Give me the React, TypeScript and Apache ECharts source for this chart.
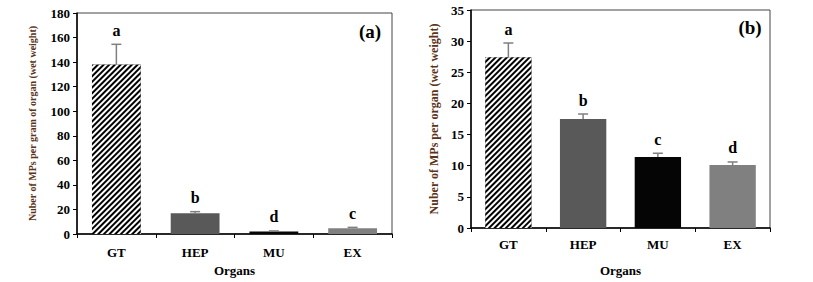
import React, { useEffect, useRef } from "react";
import * as echarts from "echarts";

const categories = ["GT", "HEP", "MU", "EX"];

const valuesA = [138, 16.8, 2.1, 4.7];
const errorTopA = [154.5, 18.2, 2.5, 5.4];
const lettersA = ["a", "b", "d", "c"];

const valuesB = [27.4, 17.5, 11.4, 10.1];
const errorTopB = [29.7, 18.3, 12.0, 10.6];
const lettersB = ["a", "b", "c", "d"];

const barColors = ["#000000", "#595959", "#050505", "#808080"];

const SERIF = '"Liberation Serif", "Times New Roman", serif';

function makeBarData(values: number[]) {
  return values.map((v, i) => {
    const item: any = { value: v, itemStyle: { color: barColors[i] } };
    if (i === 0) {
      item.itemStyle.decal = {
        symbol: "rect",
        symbolSize: 1,
        dashArrayX: [1, 0],
        dashArrayY: [2, 2],
        rotation: -Math.PI / 4,
        color: "#ffffff",
      };
    }
    return item;
  });
}

function makeErrSeries(gridIdx: number, values: number[], tops: number[], letters: string[]) {
  return {
    type: "custom",
    xAxisIndex: gridIdx,
    yAxisIndex: gridIdx,
    z: 5,
    data: values.map((v, i) => [i, v, tops[i]]),
    renderItem: (params: any, api: any) => {
      const idx = params.dataIndex;
      const x = api.value(0);
      const lo = api.value(1);
      const hi = api.value(2);
      const p0 = api.coord([x, lo]);
      const p1 = api.coord([x, hi]);
      const st = { stroke: "#7f7f7f", lineWidth: 1.5 };
      return {
        type: "group",
        children: [
          { type: "line", shape: { x1: p0[0], y1: p0[1], x2: p1[0], y2: p1[1] }, style: st },
          { type: "line", shape: { x1: p1[0] - 5, y1: p1[1], x2: p1[0] + 5, y2: p1[1] }, style: st },
          {
            type: "text",
            x: p1[0],
            y: p1[1] - 6,
            style: {
              text: letters[idx],
              textAlign: "center",
              textVerticalAlign: "bottom",
              font: "bold 16px " + SERIF,
              fill: "#000",
            },
          },
        ],
      };
    },
  };
}

function yAxis(gridIndex: number, max: number, interval: number, name: string, nameSize: number, nameGap: number) {
  return {
    type: "value",
    gridIndex,
    min: 0,
    max,
    interval,
    name,
    nameLocation: "middle",
    nameGap,
    nameTextStyle: { color: "#5c3317", fontFamily: SERIF, fontWeight: "bold", fontSize: nameSize },
    axisLine: { show: true, lineStyle: { color: "#000", width: 1.5 } },
    axisTick: { show: true, inside: false, length: 4, lineStyle: { color: "#000", width: 1 } },
    axisLabel: { color: "#000", fontFamily: SERIF, fontWeight: "bold", fontSize: 13, margin: 7 },
    splitLine: { show: false },
  };
}

function xAxis(gridIndex: number, nameGap: number, labelMargin: number) {
  return {
    type: "category",
    gridIndex,
    data: categories,
    name: "Organs",
    nameLocation: "middle",
    nameGap,
    nameTextStyle: { color: "#000", fontFamily: SERIF, fontWeight: "bold", fontSize: 13 },
    axisLine: { show: true, lineStyle: { color: "#000", width: 1.5 } },
    axisTick: { show: true, inside: false, length: 4, lineStyle: { color: "#000", width: 1 } },
    axisLabel: { color: "#000", fontFamily: SERIF, fontWeight: "bold", fontSize: 13, margin: labelMargin },
    splitLine: { show: false },
  };
}

export default function App() {
  const ref = useRef<HTMLDivElement>(null);
  useEffect(() => {
    if (!ref.current) return;
    const chart = echarts.init(ref.current, null, { renderer: "svg" });
    chart.setOption({
      animation: false,
      backgroundColor: "#fff",
      grid: [
        { left: 77, top: 13, width: 315, height: 224, show: true, borderColor: "#444", borderWidth: 1 },
        { left: 471, top: 10, width: 299, height: 224, show: true, borderColor: "#444", borderWidth: 1 },
      ],
      xAxis: [xAxis(0, 30, 12), xAxis(1, 36, 10)],
      yAxis: [
        yAxis(0, 180, 20, "Nuber of MPs per gram of organ (wet weight)", 10, 40),
        yAxis(1, 35, 5, "Nuber of MPs per organ (wet weight)", 12, 31),
      ],
      series: [
        {
          type: "bar",
          xAxisIndex: 0,
          yAxisIndex: 0,
          barCategoryGap: "38%",
          data: makeBarData(valuesA),
        },
        {
          type: "bar",
          xAxisIndex: 1,
          yAxisIndex: 1,
          barCategoryGap: "38%",
          data: makeBarData(valuesB),
        },
        makeErrSeries(0, valuesA, errorTopA, lettersA),
        makeErrSeries(1, valuesB, errorTopB, lettersB),
      ],
      graphic: [
        {
          type: "text",
          x: 370,
          y: 31,
          style: { text: "(a)", textAlign: "center", textVerticalAlign: "middle", font: "bold 19px " + SERIF, fill: "#000" },
        },
        {
          type: "text",
          x: 750,
          y: 27,
          style: { text: "(b)", textAlign: "center", textVerticalAlign: "middle", font: "bold 19px " + SERIF, fill: "#000" },
        },
      ],
    });
    return () => chart.dispose();
  }, []);
  return (
    <div
      ref={ref}
      style={{ position: "fixed", left: 0, top: 0, width: 813, height: 282, background: "#fff" }}
    />
  );
}
